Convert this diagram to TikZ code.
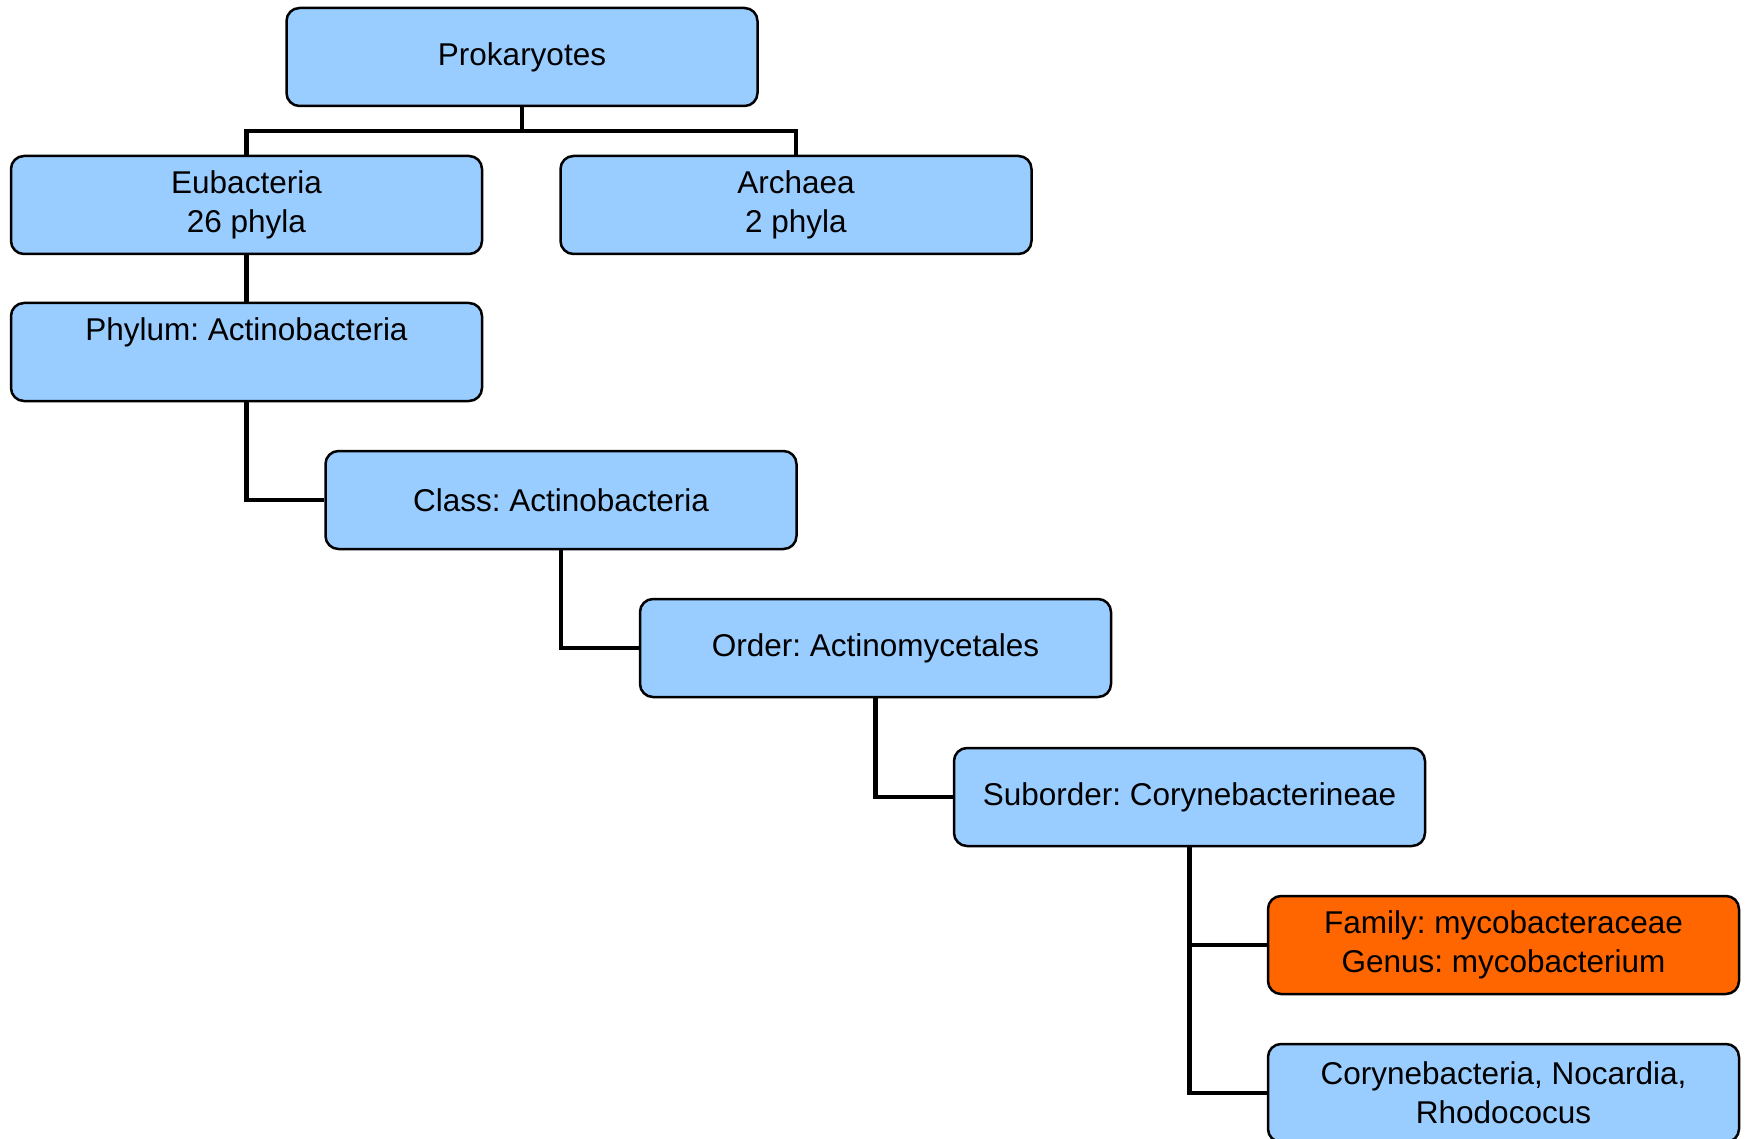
\documentclass[tikz,border=0pt]{standalone}
\usepackage{fontspec}
\setmainfont{Liberation Sans}
\usepackage{xcolor}
\usetikzlibrary{positioning}
\frenchspacing

\definecolor{boxblue}{HTML}{99CCFF}
\definecolor{boxorange}{HTML}{FF6600}

\tikzset{
    taxbox/.style={draw, solid, rectangle, rounded corners=13pt, line width=2.5pt,
        fill=boxblue, minimum width=471pt, minimum height=98pt, inner sep=0pt,
        align=center, font=\fontsize{31.5}{39}\selectfont},
    branch/.style={line width=4.5pt}
}

\begin{document}
\begin{tikzpicture}

        \useasboundingbox (0pt,0pt) rectangle (1747pt,-1139pt);

        % Taxonomy nodes
        \node (prokaryotes) [taxbox] at (522pt,-57pt) {Prokaryotes};
        \node (eubacteria) [taxbox] at (246.5pt,-205pt) {Eubacteria\\26 phyla};
        \node (archaea) [taxbox] at (796pt,-205pt) {Archaea\\2 phyla};
        \node (phylum) [taxbox] at (246.5pt,-352pt) {Phylum: Actinobacteria\\\phantom{26 phyla}};
        \node (class) [taxbox] at (561pt,-500pt) {Class: Actinobacteria};
        \node (order) [taxbox] at (875.5pt,-648pt) {Order: Actinomycetales};
        \node (suborder) [taxbox] at (1189.5pt,-797pt) {Suborder: Corynebacterineae};
        \node (family) [taxbox, fill=boxorange] at (1503.5pt,-945pt) {Family: mycobacteraceae\\Genus: mycobacterium};
        \node (coryne) [taxbox] at (1503.5pt,-1093pt) {Corynebacteria, Nocardia,\\Rhodococus};

        % Connectors
        \draw[branch](prokaryotes.south) -- ++(0,-24pt) -| (eubacteria.north);
        \draw[branch](prokaryotes.south) -- ++(0,-24pt) -| (archaea.north);
        \draw[branch](eubacteria) -- (phylum);
        \draw[branch](phylum.south) |- (class.west);
        \draw[branch](class.south) |- (order.west);
        \draw[branch](order.south) |- (suborder.west);
        \draw[branch](suborder.south) |- (family.west);
        \draw[branch](suborder.south) |- (coryne.west);

\end{tikzpicture}
\end{document}
